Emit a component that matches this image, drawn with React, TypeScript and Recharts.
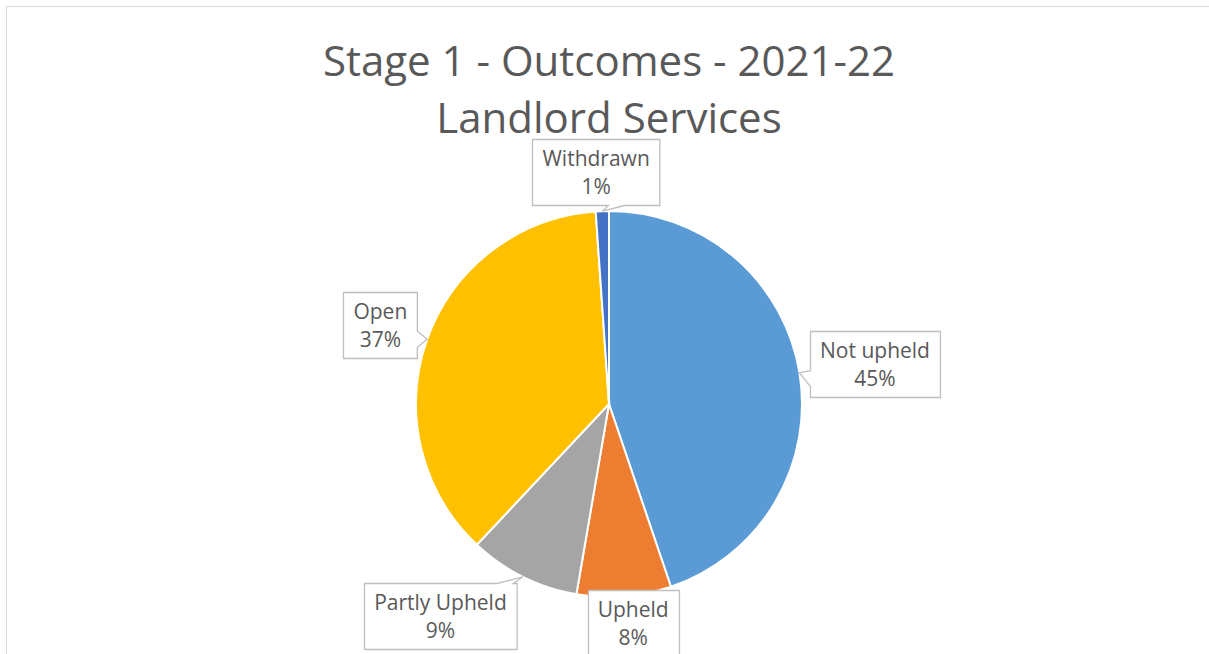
import React from "react";
import { PieChart, Pie, Cell } from "recharts";

const categories = ["Not upheld", "Upheld", "Partly Upheld", "Open", "Withdrawn"];
const shares = [44.8, 7.9, 9.3, 36.9, 1.1];
const colors = ["#5B9BD5", "#ED7D31", "#A5A5A5", "#FFC000", "#4472C4"];
const titleLines = ["Stage 1 - Outcomes - 2021-22", "Landlord Services"];

// where each callout sits: distance from pie centre and a small angular nudge (deg)
const labelLayout: Record<string, { dist: number; nudge: number }> = {
  "Not upheld": { dist: 269, nudge: -0.8 },
  Upheld: { dist: 220, nudge: 1.8 },
  "Partly Upheld": { dist: 271, nudge: -12 },
  Open: { dist: 242, nudge: 0.5 },
  Withdrawn: { dist: 232, nudge: 1.2 },
};

const FONT = "'Open Sans', sans-serif";
const TEXT = "#595959";
const LABEL_SIZE = 21;
const RAD = Math.PI / 180;

const ctx = typeof document !== "undefined" ? document.createElement("canvas").getContext("2d") : null;
function textWidth(s: string) {
  if (!ctx) return s.length * 10;
  ctx.font = `${LABEL_SIZE}px ${FONT}`;
  return ctx.measureText(s).width;
}

const clamp = (v: number, lo: number, hi: number) => Math.max(lo, Math.min(hi, v));

function calloutPath(x0: number, y0: number, x1: number, y1: number, tx: number, ty: number) {
  const out = { left: x0 - tx, right: tx - x1, top: y0 - ty, bottom: ty - y1 };
  let side = "";
  let best = 2;
  for (const [k, v] of Object.entries(out)) {
    if (v > best) {
      best = v;
      side = k;
    }
  }
  const half = 8;
  const pts: [number, number][] = [[x0, y0]];
  if (side === "top") {
    const c = clamp(tx + 14, x0 + half + 4, x1 - half - 4);
    pts.push([c - half, y0], [tx, ty], [c + half, y0]);
  }
  pts.push([x1, y0]);
  if (side === "right") {
    const c = clamp(ty, y0 + half + 4, y1 - half - 4);
    pts.push([x1, c - half], [tx, ty], [x1, c + half]);
  }
  pts.push([x1, y1]);
  if (side === "bottom") {
    const c = clamp(tx + 14, x0 + half + 4, x1 - half - 4);
    pts.push([c + half, y1], [tx, ty], [c - half, y1]);
  }
  pts.push([x0, y1]);
  if (side === "left") {
    const c = clamp(ty + 6, y0 + half + 4, y1 - half - 4);
    pts.push([x0, c + half], [tx, ty], [x0, c - half]);
  }
  return "M" + pts.map((p) => `${p[0]},${p[1]}`).join("L") + "Z";
}

function Callout(props: any) {
  const { cx, cy, midAngle, outerRadius, name, percent } = props;
  const lay = labelLayout[name] ?? { dist: outerRadius + 50, nudge: 0 };
  const a = (midAngle + lay.nudge) * RAD;
  const lx = cx + lay.dist * Math.cos(-a);
  const ly = cy + lay.dist * Math.sin(-a);
  const tx = cx + outerRadius * Math.cos(-midAngle * RAD);
  const ty = cy + outerRadius * Math.sin(-midAngle * RAD);
  const pct = `${Math.round(percent * 100)}%`;
  const w = Math.max(textWidth(name), textWidth(pct)) + 20;
  const h = 66;
  const x0 = Math.round(lx - w / 2) + 0.5;
  const y0 = Math.round(ly - h / 2) + 0.5;
  return (
    <g>
      <path d={calloutPath(x0, y0, x0 + w, y0 + h, tx, ty)} fill="#fff" stroke="#bfbfbf" strokeWidth={1.3} />
      <text x={lx} y={ly - 14} textAnchor="middle" dominantBaseline="central" fontSize={LABEL_SIZE} fontFamily={FONT} fill={TEXT}>
        {name}
      </text>
      <text x={lx} y={ly + 14} textAnchor="middle" dominantBaseline="central" fontSize={LABEL_SIZE} fontFamily={FONT} fill={TEXT}>
        {pct}
      </text>
    </g>
  );
}

export default function App() {
  const data = categories.map((name, i) => ({ name, value: shares[i] }));
  return (
    <div style={{ position: "absolute", left: 0, top: 0, width: 1209, height: 654, overflow: "hidden", background: "#fff" }}>
      <div style={{ position: "absolute", left: 6, top: 6, width: 1300, height: 800, border: "1px solid #d9d9d9" }} />
      <div
        style={{
          position: "absolute",
          left: 0,
          top: 31,
          width: 1218,
          textAlign: "center",
          fontFamily: FONT,
          fontSize: 42,
          lineHeight: "57px",
          color: TEXT,
        }}
      >
        {titleLines.map((t) => (
          <div key={t}>{t}</div>
        ))}
      </div>
      <div style={{ position: "absolute", left: 0, top: 0 }}>
        <PieChart width={1209} height={654} margin={{ top: 0, right: 0, bottom: 0, left: 0 }}>
          <Pie
            data={data}
            dataKey="value"
            nameKey="name"
            cx={609}
            cy={404}
            outerRadius={193}
            startAngle={90}
            endAngle={-270}
            stroke="#fff"
            strokeWidth={2}
            label={Callout}
            labelLine={false}
            isAnimationActive={false}
          >
            {data.map((d, i) => (
              <Cell key={d.name} fill={colors[i]} />
            ))}
          </Pie>
        </PieChart>
      </div>
    </div>
  );
}
